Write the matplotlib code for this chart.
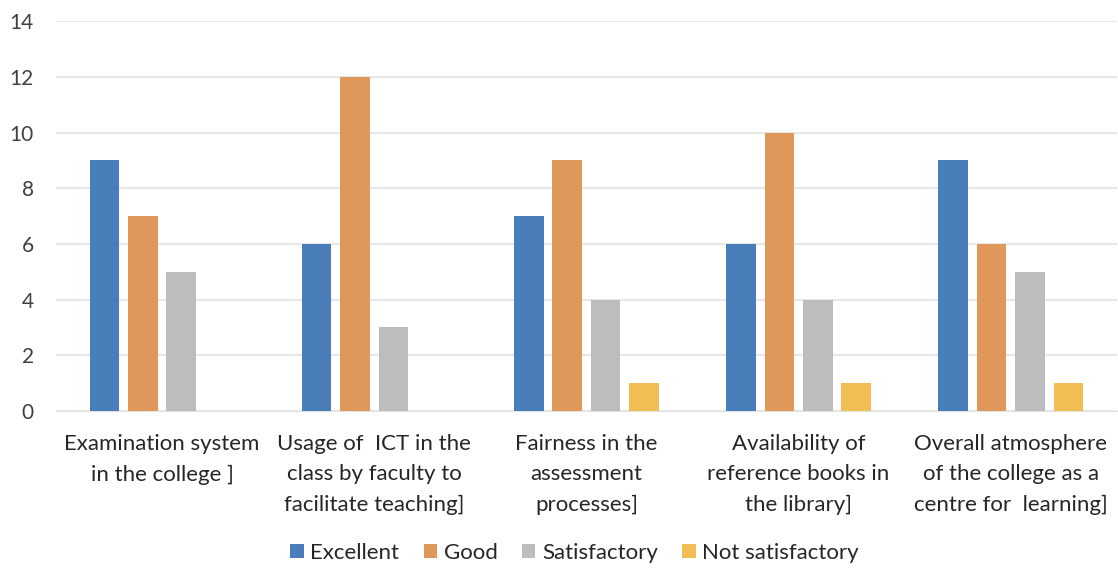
import numpy as np
import matplotlib
matplotlib.use("Agg")
import matplotlib.pyplot as plt

categories = [
    "Examination system\nin the college ]",
    "Usage of  ICT in the\nclass by faculty to\nfacilitate teaching]",
    "Fairness in the\nassessment\nprocesses]",
    "Availability of\nreference books in\nthe library]",
    "Overall atmosphere\nof the college as a\ncentre for  learning]",
]
series_names = ["Excellent", "Good", "Satisfactory", "Not satisfactory"]
excellent = [9, 6, 7, 6, 9]
good = [7, 12, 9, 10, 6]
satisfactory = [5, 3, 4, 4, 5]
not_satisfactory = [0, 0, 1, 1, 1]
colors = ["#4a7ebb", "#e0975a", "#bdbdbd", "#f0be55"]

plt.rcParams['font.family'] = ['Lato', 'DejaVu Sans']

fig = plt.figure(figsize=(11.18, 5.73), dpi=100)
ax = fig.add_axes([0.050, 0.283, 0.949, 0.680])

x = np.arange(len(categories))
width = 0.14
pitch = 0.181
all_values = [excellent, good, satisfactory, not_satisfactory]
for i, (name, vals) in enumerate(zip(series_names, all_values)):
    offs = (i - 1.5) * pitch
    ax.bar(x + offs, vals, width, color=colors[i], label=name, zorder=3)

ax.set_xlim(-0.5, len(categories) - 0.5)
ax.set_ylim(0, 14)
ax.set_yticks(range(0, 15, 2))
ax.grid(axis='y', color='#e3e3e3', linewidth=1.2, zorder=0)
for s in ['top', 'right', 'left']:
    ax.spines[s].set_visible(False)
ax.spines['bottom'].set_color('#e3e3e3')
ax.tick_params(axis='both', length=0, labelcolor='#404040')
ax.tick_params(axis='y', labelsize=15, pad=16)
ax.set_xticks(x)
ax.set_xticklabels(categories, fontsize=16, color='#262626', linespacing=1.62)
ax.tick_params(axis='x', pad=17)

fig.legend(loc='center', bbox_to_anchor=(0.514, 0.035), ncol=4, frameon=False,
           fontsize=16, handlelength=0.6, handleheight=0.6, handletextpad=0.3,
           columnspacing=1.1, labelcolor='#262626')

fig.savefig("out.png", dpi=100, facecolor='white')
